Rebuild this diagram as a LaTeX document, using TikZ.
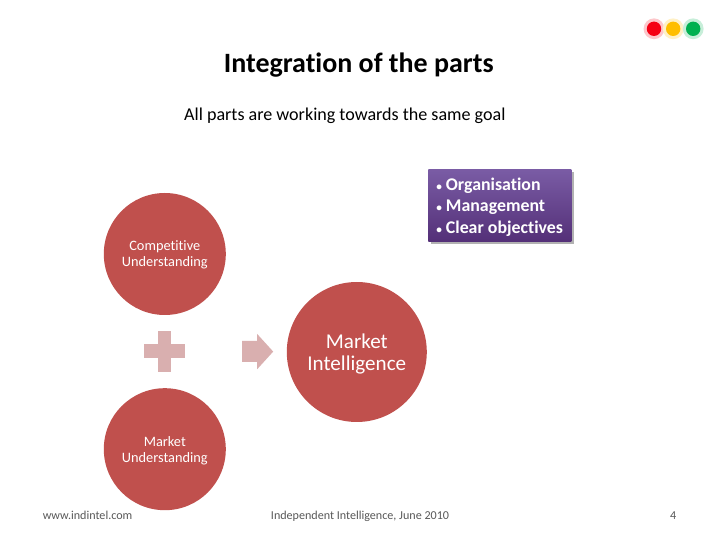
\documentclass[tikz,border=0pt]{standalone}
\usepackage{fontspec}
\setmainfont[Ligatures=NoCommon]{Carlito}
\usetikzlibrary{shadows}
\definecolor{brickred}{RGB}{192, 80, 77}
\definecolor{dustyrose}{RGB}{217, 175, 175}
\definecolor{footgray}{RGB}{89, 89, 89}
\definecolor{plumtop}{RGB}{122, 92, 165}
\definecolor{plumlow}{RGB}{84, 48, 120}
\definecolor{lampred}{RGB}{245, 0, 20}
\definecolor{lampamber}{RGB}{255, 190, 0}
\definecolor{lampgreen}{RGB}{0, 176, 80}
\tikzset{
    partcircle/.style={circle, fill=brickred, inner sep=0pt},
    parttext/.style={align=center, inner sep=0pt, text=white},
    footnote/.style={text=footgray, anchor=base, font=\fontsize{8.6}{10}\selectfont},
    lamp/.style={circle, inner sep=0pt, minimum size=0.36cm},
    lamphalo/.style={circle, inner sep=0pt, minimum size=0.52cm}
}
\newcommand{\smallbullet}{{\fontsize{8}{8}\selectfont •}}

\begin{document}
\begin{tikzpicture}
            % Frame to ensure alignment:
            \useasboundingbox (0.00, 0.00) rectangle (18.00, 13.50);
            \fill[white] (0.00, 0.00) rectangle (18.00, 13.50);
            % Title
            \node (title) at (8.97, 11.87) {\fontsize{19.9}{22}\selectfont\bfseries Integration of the parts};
            \node (subtitle) at (8.62, 10.60) {\fontsize{12.85}{14}\selectfont All parts are working towards the same goal};
            % Lamps
            \node[lamphalo, fill=lampred!22]    (halored)   at (16.35, 12.78) {};
            \node[lamphalo, fill=lampamber!22]  (haloamber) at (16.83, 12.78) {};
            \node[lamphalo, fill=lampgreen!22]  (halogreen) at (17.33, 12.78) {};
            \node[lamp, fill=lampred]           (lampr)     at (16.35, 12.78) {};
            \node[lamp, fill=lampamber]         (lampa)     at (16.83, 12.78) {};
            \node[lamp, fill=lampgreen]         (lampg)     at (17.33, 12.78) {};
            % Purple box
            \node[inner sep=0pt, minimum width=3.58cm, minimum height=1.80cm, top color=plumtop, bottom color=plumlow, drop shadow={shadow xshift=0.06cm, shadow yshift=-0.07cm, opacity=0.6}, anchor=north west] (goalbox) at (10.70, 9.28) {};
            \node[anchor=west, inner sep=0pt, align=left, text=white, font=\fontsize{12.7}{15.3}\selectfont\bfseries] (goaltext) at (10.90, 8.33) {\smallbullet\ Organisation\\\smallbullet\ Management\\\smallbullet\ Clear objectives};
            % Circles
            \node[partcircle, minimum size=3.05cm] (competitive) at (4.12, 7.15) {};
            \node[partcircle, minimum size=3.05cm] (market) at (4.12, 2.27) {};
            \node[partcircle, minimum size=3.50cm] (intelligence) at (8.92, 4.70) {};
            \node[parttext, font=\fontsize{10.2}{11.4}\selectfont] (competitivetext) at (4.12, 7.12) {Competitive\\Understanding};
            \node[parttext, font=\fontsize{10.2}{11.4}\selectfont] (markettext) at (4.12, 2.23) {Market\\Understanding};
            \node[parttext, font=\fontsize{15}{15.6}\selectfont] (intelligencetext) at (8.92, 4.66) {Market\\Intelligence};
            % Plus and arrow
            \fill[dustyrose] (3.60, 4.55) rectangle (4.62, 4.90);
            \fill[dustyrose] (3.95, 4.20) rectangle (4.28, 5.22);
            \fill[dustyrose] (6.05, 4.45) -- (6.43, 4.45) -- (6.43, 4.27) -- (6.83, 4.71) -- (6.43, 5.15) -- (6.43, 4.98) -- (6.05, 4.98) -- cycle;
            % Footer
            \node[footnote] (site) at (2.19, 0.52) {www.indintel.com};
            \node[footnote] (event) at (9.00, 0.52) {Independent Intelligence,  June 2010};
            \node[footnote] (page) at (16.83, 0.52) {4};
        \end{tikzpicture}
\end{document}
